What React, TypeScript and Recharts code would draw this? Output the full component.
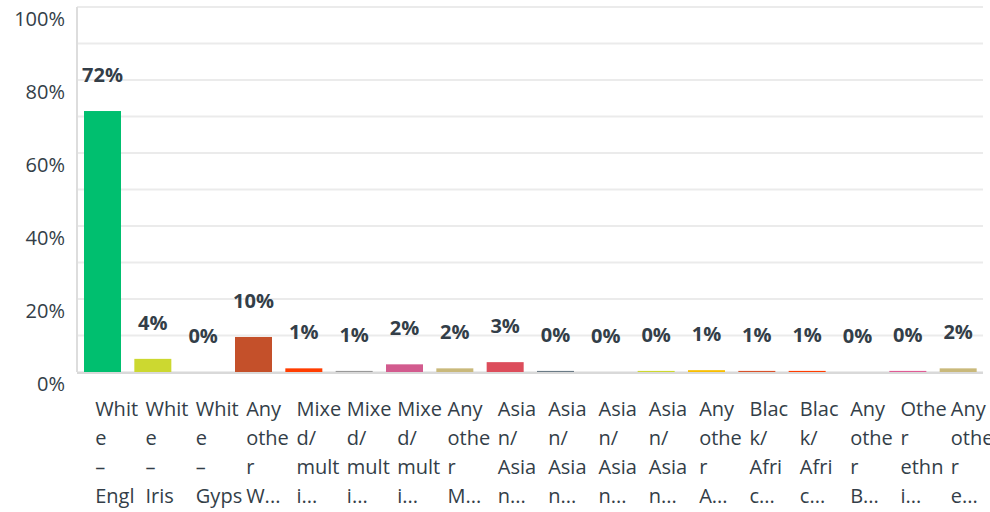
import { BarChart, Bar, XAxis, YAxis, CartesianGrid } from 'recharts';

// visible (wrapped + truncated) category labels, line by line
const tickLines = [
  ['Whit', 'e', '–', 'Engl'],
  ['Whit', 'e', '–', 'Iris'],
  ['Whit', 'e', '–', 'Gyps'],
  ['Any', 'othe', 'r', 'W...'],
  ['Mixe', 'd/', 'mult', 'i...'],
  ['Mixe', 'd/', 'mult', 'i...'],
  ['Mixe', 'd/', 'mult', 'i...'],
  ['Any', 'othe', 'r', 'M...'],
  ['Asia', 'n/', 'Asia', 'n...'],
  ['Asia', 'n/', 'Asia', 'n...'],
  ['Asia', 'n/', 'Asia', 'n...'],
  ['Asia', 'n/', 'Asia', 'n...'],
  ['Any', 'othe', 'r', 'A...'],
  ['Blac', 'k/', 'Afri', 'c...'],
  ['Blac', 'k/', 'Afri', 'c...'],
  ['Any', 'othe', 'r', 'B...'],
  ['Othe', 'r', 'ethn', 'i...'],
  ['Any', 'othe', 'r', 'e...'],
];

// bar heights in percent
const values = [71.5, 3.6, 0, 9.6, 1.0, 0.3, 2.1, 1.0, 2.7, 0.3, 0, 0.3, 0.5, 0.3, 0.3, 0, 0.3, 1.0];
// labels shown above the bars
const valueLabels = ['72%', '4%', '0%', '10%', '1%', '1%', '2%', '2%', '3%', '0%', '0%', '0%', '1%', '1%', '1%', '0%', '0%', '2%'];

const colors = [
  '#00bf6f', '#ccd830', '#999999', '#c4502a', '#ff3d00', '#999999', '#d25b8e', '#c9b97b', '#dc4d5b',
  '#6b7b86', '#999999', '#cdd82e', '#f8be00', '#d9522b', '#ff3d00', '#999999', '#e05c95', '#c9b97b',
];

const yTicks = [0, 10, 20, 30, 40, 50, 60, 70, 80, 90, 100];

const data = values.map((v, i) => ({ idx: i, value: v, label: valueLabels[i] }));

const FONT = '"Open Sans", sans-serif';
const TEXT = '#333e48';

const XTick = (props: any) => {
  const { x, y, payload } = props;
  const lines = tickLines[payload.index] || [];
  return (
    <g>
      {lines.map((l, i) => (
        <text key={i} x={x - 7} y={y + 36 + i * 29} fill={TEXT} fontSize={20} fontFamily={FONT} textAnchor="start">
          {l}
        </text>
      ))}
    </g>
  );
};

const YTick = (props: any) => {
  const { y, payload } = props;
  if (payload.value % 20 !== 0) return <g />;
  return (
    <text x={65} y={y + 12} dy="0.35em" fill={TEXT} fontSize={20} fontFamily={FONT} textAnchor="end">
      {payload.value}%
    </text>
  );
};

// bar rect + its value label (drawn also for zero-height bars)
const BarWithLabel = (props: any) => {
  const { x, y, width, height, index } = props;
  const h = Math.max(0, height || 0);
  return (
    <g>
      {h > 0 && <rect x={x} y={y} width={width} height={h} fill={colors[index]} />}
      <text x={x + width / 2} y={y - 36} dy="0.35em" fill={TEXT} fontSize={20} fontWeight={700} fontFamily={FONT} textAnchor="middle">
        {valueLabels[index]}
      </text>
    </g>
  );
};

export default function App() {
  return (
    <div style={{ position: 'absolute', left: 0, top: 0, background: '#fff' }}>
      <BarChart width={990} height={512} data={data} margin={{ top: 7, right: 7, left: 0, bottom: 0 }}>
        <CartesianGrid vertical={false} stroke="#ebebeb" strokeWidth={2} />
        <XAxis
          dataKey="idx"
          height={140}
          interval={0}
          tickLine={false}
          axisLine={{ stroke: '#d9d9d9', strokeWidth: 2, transform: 'translate(0,1)' }}
          tick={<XTick />}
        />
        <YAxis
          width={77}
          domain={[0, 100]}
          ticks={yTicks}
          interval={0}
          tickLine={false}
          axisLine={{ stroke: '#dddddd', strokeWidth: 2 }}
          tick={<YTick />}
        />
        <Bar dataKey="value" barSize={37} isAnimationActive={false} shape={<BarWithLabel />} />
      </BarChart>
    </div>
  );
}
